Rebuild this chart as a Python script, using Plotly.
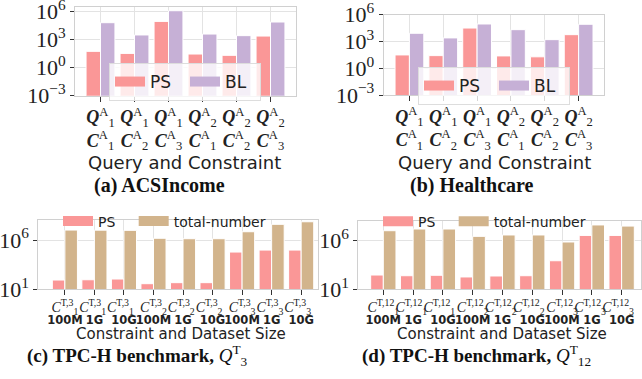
import plotly.graph_objects as go

# ---------------- data ----------------
# (a) ACSIncome / (b) Healthcare : query & constraint categories
cats_ab = [
    "<b><i>Q</i></b><sup>A</sup><sub>1</sub><br><b><i>C</i></b><sup>A</sup><sub>1</sub>",
    "<b><i>Q</i></b><sup>A</sup><sub>1</sub><br><b><i>C</i></b><sup>A</sup><sub>2</sub>",
    "<b><i>Q</i></b><sup>A</sup><sub>1</sub><br><b><i>C</i></b><sup>A</sup><sub>3</sub>",
    "<b><i>Q</i></b><sup>A</sup><sub>2</sub><br><b><i>C</i></b><sup>A</sup><sub>1</sub>",
    "<b><i>Q</i></b><sup>A</sup><sub>2</sub><br><b><i>C</i></b><sup>A</sup><sub>2</sub>",
    "<b><i>Q</i></b><sup>A</sup><sub>2</sub><br><b><i>C</i></b><sup>A</sup><sub>3</sub>",
]
ps_a = [56, 34, 91000, 29, 21, 2450]
bl_a = [66000, 3200, 1260000, 4000, 2700, 78000]
ps_b = [31, 26, 32000, 24, 19, 5800]
bl_b = [8300, 2500, 91000, 21000, 1600, 85000]

# (c) / (d) TPC-H : constraint & dataset size
cats_c = ["<i>C</i><sup>T,3</sup><sub>1</sub>", "<i>C</i><sup>T,3</sup><sub>1</sub> ",
          "<i>C</i><sup>T,3</sup><sub>1</sub>  ", "<i>C</i><sup>T,3</sup><sub>2</sub>",
          "<i>C</i><sup>T,3</sup><sub>2</sub> ", "<i>C</i><sup>T,3</sup><sub>2</sub>  ",
          "<i>C</i><sup>T,3</sup><sub>3</sub>", "<i>C</i><sup>T,3</sup><sub>3</sub> ",
          "<i>C</i><sup>T,3</sup><sub>3</sub>  "]
cats_d = ["<i>C</i><sup>T,12</sup><sub>1</sub>", "<i>C</i><sup>T,12</sup><sub>1</sub> ",
          "<i>C</i><sup>T,12</sup><sub>1</sub>  ", "<i>C</i><sup>T,12</sup><sub>2</sub>",
          "<i>C</i><sup>T,12</sup><sub>2</sub> ", "<i>C</i><sup>T,12</sup><sub>2</sub>  ",
          "<i>C</i><sup>T,12</sup><sub>3</sub>", "<i>C</i><sup>T,12</sup><sub>3</sub> ",
          "<i>C</i><sup>T,12</sup><sub>3</sub>  "]
sizes = ["100M", "1G", "10G", "100M", "1G", "10G", "100M", "1G", "10G"]
ps_c = [87, 93, 110, 37, 47, 47, 60000, 95000, 95000]
tn_c = [10200000, 10000000, 9500000, 1500000, 1350000, 1350000, 6900000, 39000000, 71000000]
ps_d = [295, 250, 275, 186, 234, 250, 8700, 3500000, 3500000]
tn_d = [10700000, 16000000, 16000000, 2800000, 3900000, 3900000, 740000, 42000000, 32000000]

ytick_ab = [1e-3, 1, 1e3, 1e6]
ytext_ab = ["10<sup>\u22123</sup>", "10<sup>0</sup>", "10<sup>3</sup>", "10<sup>6</sup>"]
ytick_cd = [1e1, 1e6]
ytext_cd = ["10<sup>1</sup>", "10<sup>6</sup>"]

C_PS = "#fa9797"
C_BL = "#c6b0d6"
C_TN = "#d2b48c"

W, H = 642, 379
px = lambda v: v / W
py = lambda v: 1 - v / H

fig = go.Figure()

def bars(x, y, color, xa, ya):
    fig.add_trace(go.Bar(x=x, y=y, marker=dict(color=color, line=dict(color="white", width=1)),
                         xaxis=xa, yaxis=ya, showlegend=False))

def leg(name, color, legend, xa, ya):
    fig.add_trace(go.Scatter(x=[None], y=[None], mode="lines", name=name,
                             line=dict(color=color, width=12), legend=legend,
                             xaxis=xa, yaxis=ya))

NB = "\u00a0\u00a0\u00a0"
bars(cats_ab, ps_a, C_PS, "x", "y"); bars(cats_ab, bl_a, C_BL, "x", "y")
bars(cats_ab, ps_b, C_PS, "x2", "y2"); bars(cats_ab, bl_b, C_BL, "x2", "y2")
bars(cats_c, ps_c, C_PS, "x3", "y3"); bars(cats_c, tn_c, C_TN, "x3", "y3")
bars(cats_d, ps_d, C_PS, "x4", "y4"); bars(cats_d, tn_d, C_TN, "x4", "y4")
leg("PS", C_PS, "legend", "x", "y"); leg("BL", C_BL, "legend", "x", "y")
leg("PS", C_PS, "legend2", "x2", "y2"); leg("BL", C_BL, "legend2", "x2", "y2")
leg("PS" + NB, C_PS, "legend3", "x3", "y3"); leg("total-number", C_TN, "legend3", "x3", "y3")
leg("PS" + NB, C_PS, "legend4", "x4", "y4"); leg("total-number", C_TN, "legend4", "x4", "y4")
# invisible carriers for the dataset-size label axes
fig.add_trace(go.Scatter(x=[None], y=[None], xaxis="x5", yaxis="y3", showlegend=False))
fig.add_trace(go.Scatter(x=[None], y=[None], xaxis="x6", yaxis="y4", showlegend=False))

GRID = "#e3e3e3"
FRAME = "#d0d0d0"

def xax(dom, rng, anchor, font):
    return dict(domain=dom, range=rng, anchor=anchor, type="category", showgrid=True,
                gridcolor=GRID, showline=True, linecolor=FRAME, mirror=True, ticks="outside",
                ticklen=5, tickwidth=1.2, tickcolor="#333", tickangle=0, tickfont=font,
                zeroline=False, fixedrange=True, automargin=False, ticklabeloverflow="allow")

def sax(dom, rng, anchor, over):
    return dict(domain=dom, range=rng, anchor=anchor, overlaying=over, type="linear",
                tickmode="array", tickvals=list(range(len(sizes))), ticktext=sizes,
                showgrid=False, showline=False, zeroline=False, ticks="", ticklen=0,
                ticklabelstandoff=22, tickangle=0, side="bottom",
                tickfont=dict(family="DejaVu Sans", size=11.5, color="#222", weight="bold"),
                fixedrange=True, automargin=False, ticklabeloverflow="allow")

def yax(dom, rng, anchor, tv, tt):
    return dict(domain=dom, range=rng, anchor=anchor, type="log", showgrid=True,
                gridcolor=GRID, showline=True, linecolor=FRAME, mirror=True, ticks="outside",
                ticklen=4, tickwidth=1.2, tickcolor="#333", tickvals=tv, ticktext=tt,
                tickfont=dict(family="Liberation Serif", size=22, color="#222"),
                zeroline=False, fixedrange=True, automargin=False, ticklabeloverflow="allow")

fab = dict(family="Liberation Serif", size=18, color="#222")
fcd = dict(family="Liberation Serif", size=14, color="#222")

leg_ab = dict(xanchor="center", yanchor="top", orientation="h",
              bgcolor="rgba(255,255,255,0.8)", bordercolor="#dddddd", borderwidth=1,
              entrywidth=30, entrywidthmode="pixels",
              font=dict(family="DejaVu Sans", size=17, color="#222"))
leg_cd = dict(xanchor="left", yanchor="middle", orientation="h",
              bgcolor="rgba(255,255,255,0)", borderwidth=0,
              font=dict(family="DejaVu Sans", size=14, color="#222"))

dom_c = [px(38.3), px(318)]
dom_d = [px(358.3), px(641)]
rng_c = [-0.9, 8.57]
rng_d = [-0.84, 8.65]

fig.update_layout(
    width=W, height=H, margin=dict(l=0, r=0, t=0, b=0, autoexpand=False),
    paper_bgcolor="white", plot_bgcolor="white",
    barmode="group", bargap=0.15, bargroupgap=0,
    xaxis=xax([px(75), px(296)], [-0.75, 5.75], "y", fab),
    yaxis=yax([py(95.7), py(7)], [-3, 6.5], "x", ytick_ab, ytext_ab),
    xaxis2=xax([px(383.7), px(604)], [-0.76, 5.75], "y2", fab),
    yaxis2=yax([py(95), py(14.7)], [-3, 6], "x2", ytick_ab, ytext_ab),
    xaxis3=xax(dom_c, rng_c, "y3", fcd),
    yaxis3=yax([py(289.3), py(220)], [1, 8.03], "x3", ytick_cd, ytext_cd),
    xaxis4=xax(dom_d, rng_d, "y4", fcd),
    yaxis4=yax([py(289.3), py(220.7)], [1, 8.06], "x4", ytick_cd, ytext_cd),
    xaxis5=sax(dom_c, rng_c, "y3", "x3"),
    xaxis6=sax(dom_d, rng_d, "y4", "x4"),
    legend=dict(leg_ab, x=px(185), y=py(63)),
    legend2=dict(leg_ab, x=px(494), y=py(67)),
    legend3=dict(leg_cd, x=px(58), y=py(221.5)),
    legend4=dict(leg_cd, x=px(378), y=py(221.7)),
)

def ann(text, x, y, font):
    fig.add_annotation(text=text, x=px(x), y=py(y), xref="paper", yref="paper",
                       xanchor="center", yanchor="middle", showarrow=False, font=font)

sans_t = dict(family="DejaVu Sans", size=18, color="#222")
sans_t2 = dict(family="DejaVu Sans", size=15, color="#222")
cap = dict(family="Liberation Serif", size=20, color="#111")
cap2 = dict(family="Liberation Serif", size=19, color="#111")
ann("Query and Constraint", 185, 163, sans_t)
ann("Query and Constraint", 494, 163, sans_t)
ann("Constraint and Dataset Size", 181, 334, sans_t2)
ann("Constraint and Dataset Size", 502, 334, sans_t2)
ann("<b>(a) ACSIncome</b>", 159, 185, cap)
ann("<b>(b) Healthcare</b>", 472, 185, cap)
ann("<b>(c) TPC-H benchmark,</b> <i>Q</i><sup>T</sup><sub>3</sub>", 137, 355, cap2)
ann("<b>(d) TPC-H benchmark,</b> <i>Q</i><sup>T</sup><sub>12</sub>", 476, 355, cap2)

fig.write_html("out.html", config={"displayModeBar": False},
               post_script="document.body.style.margin='0';document.body.style.overflow='hidden';")
